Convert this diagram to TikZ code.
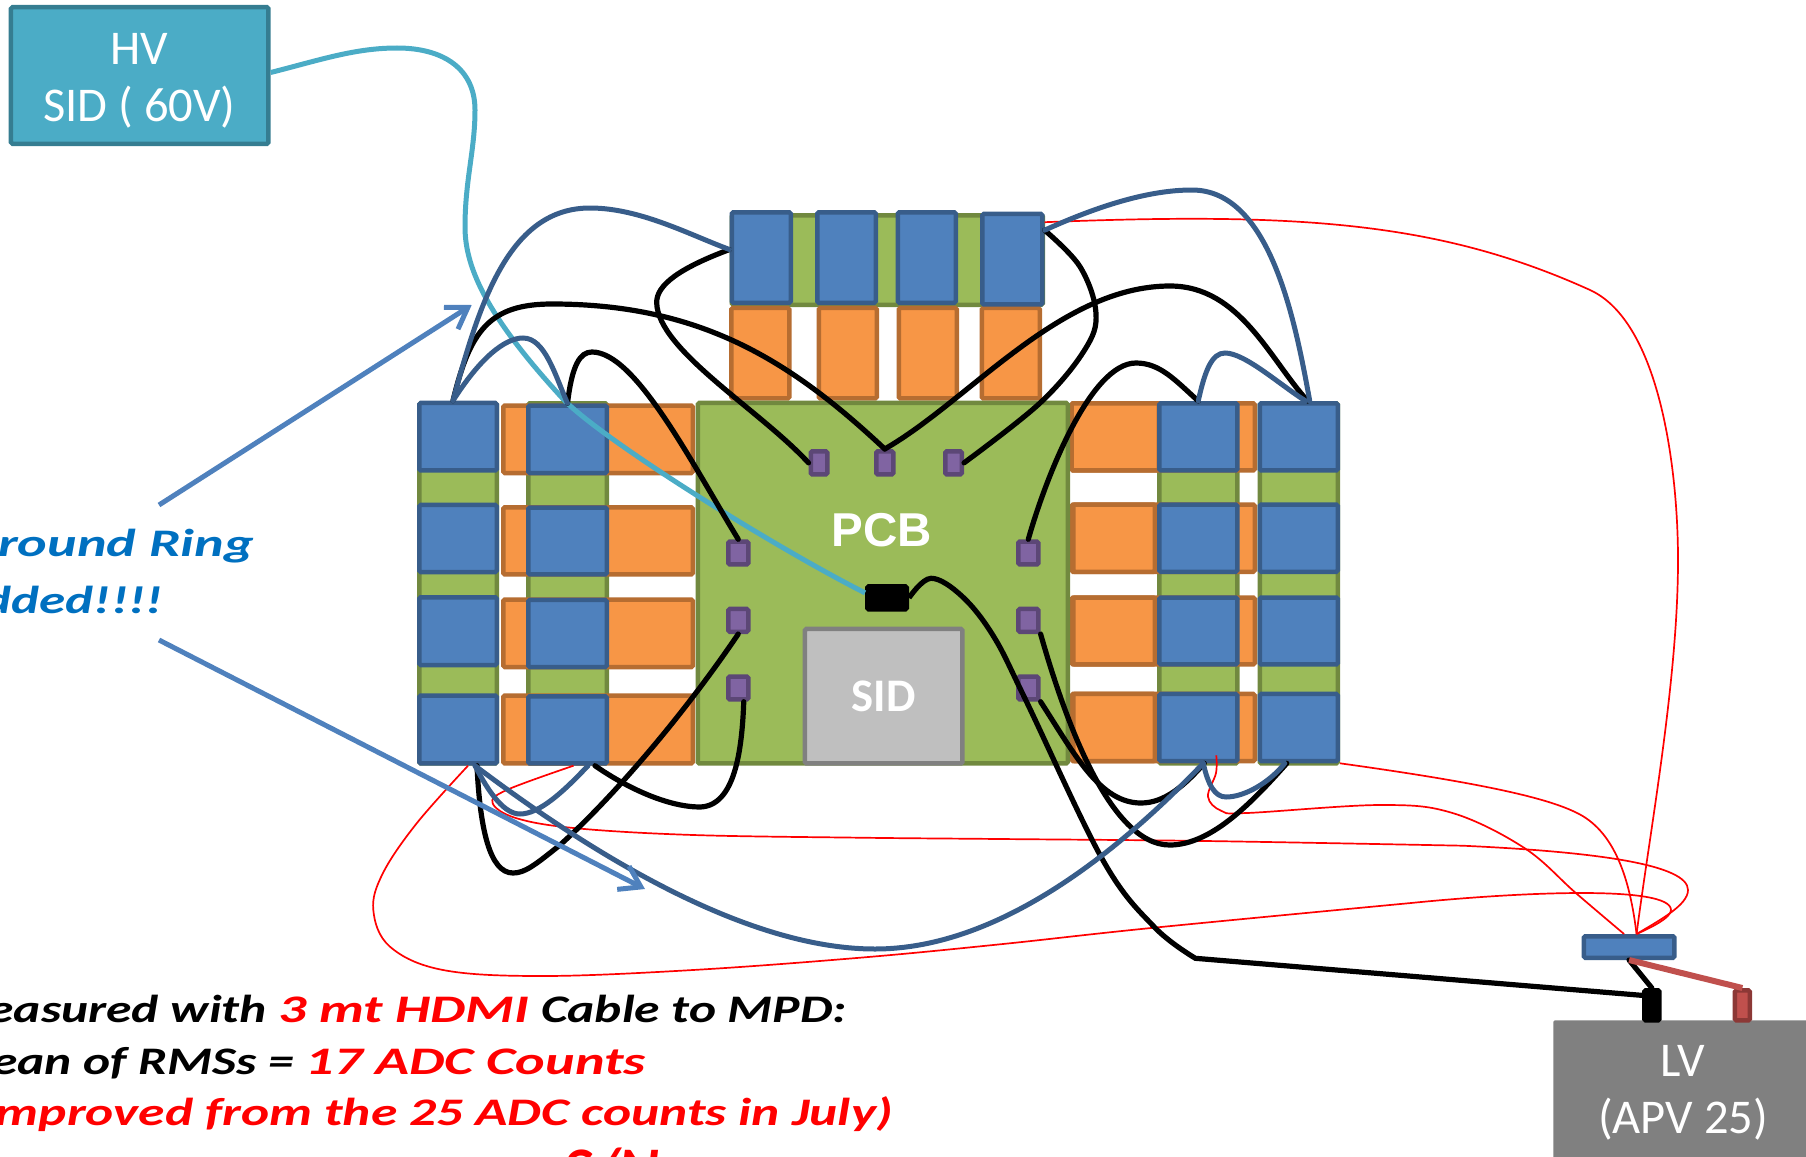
\documentclass[tikz,border=0pt]{standalone}
\usepackage{fontspec}
\usepackage{graphicx}
\setmainfont{Carlito}
\newfontfamily\pcbfont{Liberation Sans}
\usetikzlibrary{arrows.meta}
\definecolor{bfill}{HTML}{4F81BD}\definecolor{bline}{HTML}{385D8A}
\definecolor{gfill}{HTML}{9BBB59}\definecolor{gline}{HTML}{71893F}
\definecolor{ofill}{HTML}{F79646}\definecolor{oline}{HTML}{B66D31}
\definecolor{pfill}{HTML}{8064A2}\definecolor{pline}{HTML}{5C4776}
\definecolor{tfill}{HTML}{4BACC6}\definecolor{tline}{HTML}{357D91}
\definecolor{rfill}{HTML}{C0504D}\definecolor{rline}{HTML}{8C3836}
\definecolor{handblue}{HTML}{0070C0}
\newcommand{\bx}[6]{\node[#1,minimum width={(#4-#2-4.5)*1pt},minimum height={(#5-#3-4.5)*1pt}] (#6) at ({(#2+#4)/2},{(#3+#5)/2}) {};}
\newcommand{\bxt}[7]{\node[#1,minimum width={(#4-#2-4.5)*1pt},minimum height={(#5-#3-4.5)*1pt}] (#6) at ({(#2+#4)/2},{(#3+#5)/2}) {#7};}
\newcommand{\bigtxt}{\fontsize{48.5}{57.5}\selectfont}
\newcommand{\hw}[2]{\scalebox{#1}[1]{\fontsize{39}{39}\selectfont\bfseries\itshape #2}}
\tikzset{
 boxbase/.style={rectangle,inner sep=0pt,line width=4.5pt,rounded corners=1.5pt},
 blu/.style={boxbase,fill=bfill,draw=bline},
 grn/.style={boxbase,fill=gfill,draw=gline},
 org/.style={boxbase,fill=ofill,draw=oline},
 padbox/.style={boxbase,fill=pfill,draw=pline},
 sidbox/.style={boxbase,fill=black!25,draw=black!50,text=white,font=\fontsize{46.7}{57}\selectfont\bfseries},
 hvbox/.style={boxbase,fill=tfill,draw=tline},
 lvbox/.style={boxbase,fill=black!50,draw=none,text=white,font=\bigtxt,align=center},
 hvtext/.style={inner sep=0pt,text=white,font=\bigtxt,align=center},
 blk/.style={boxbase,fill=black,draw=black},
 redc/.style={boxbase,fill=rfill,draw=rline},
 wk/.style={draw=black,line width=5.2pt,line cap=round},
 wb/.style={draw=bline,line width=5pt,line cap=round},
 wr/.style={draw=red,line width=1.7pt},
 wt/.style={draw=tfill,line width=5pt},
 ptr/.style={draw=bfill,line width=5pt,-{Straight Barb[length=20pt,width=26pt,line width=5pt]}},
 hwt/.style={inner sep=0pt,anchor=base east},
 sm/.style={smooth,tension=0.6}
}
\begin{document}
\begin{tikzpicture}[x=1pt,y=-1pt]
\useasboundingbox (0,0) rectangle (1806,1156);
\clip (0,0) rectangle (1806,1156);
% green carriers
\bx{grn}{417}{401}{499}{765.7}{gLa}
\bx{grn}{526}{401}{609}{765.7}{gLb}
\bx{grn}{1157}{401}{1239.5}{765.7}{gRa}
\bx{grn}{1257.5}{401}{1340}{765.7}{gRb}
\bx{grn}{729.5}{213}{1045}{307}{gT}
% orange strips
\bx{org}{501}{403.3}{695}{475.3}{oL1}
\bx{org}{501}{505}{695}{576.7}{oL2}
\bx{org}{501}{597.3}{695}{669.3}{oL3}
\bx{org}{501}{693.3}{695}{765.7}{oL4}
\bx{org}{1069.3}{401}{1257}{472.7}{oR1}
\bx{org}{1069.3}{502.3}{1257}{574}{oR2}
\bx{org}{1069.3}{595.3}{1257}{666.7}{oR3}
\bx{org}{1069.3}{691.7}{1257}{763.3}{oR4}
\bx{org}{1069.3}{401}{1161}{472.7}{oS1}
\bx{org}{1071}{502.3}{1157}{574}{oS2}
\bx{org}{1071}{595.3}{1157}{666.7}{oS3}
\bx{org}{1071}{691.7}{1157}{763.3}{oS4}
\bx{org}{729}{305.7}{791.5}{400.7}{oT1}
\bx{org}{816.5}{305.7}{879}{400.7}{oT2}
\bx{org}{896.5}{305.7}{959}{400.7}{oT3}
\bx{org}{979.5}{305.7}{1042}{400.7}{oT4}
% blue pieces
\bx{blu}{417}{400.7}{499}{472.7}{La1}
\bx{blu}{417}{502.7}{499}{574.3}{La2}
\bx{blu}{417}{595}{499}{667.3}{La3}
\bx{blu}{417}{693.3}{499}{765.7}{La4}
\bx{blu}{526}{403.3}{609}{475.3}{Lb1}
\bx{blu}{526}{505.3}{609}{576.7}{Lb2}
\bx{blu}{526}{597.7}{609}{669.3}{Lb3}
\bx{blu}{526}{694}{609}{765.7}{Lb4}
\bx{blu}{1157}{401}{1239.5}{472.7}{Ra1}
\bx{blu}{1157}{502.3}{1239.5}{574}{Ra2}
\bx{blu}{1157}{595.3}{1239.5}{666.7}{Ra3}
\bx{blu}{1157}{691.7}{1239.5}{763.3}{Ra4}
\bx{blu}{1257.5}{401}{1340}{472.7}{Rb1}
\bx{blu}{1257.5}{502.3}{1340}{574}{Rb2}
\bx{blu}{1257.5}{595.3}{1340}{666.7}{Rb3}
\bx{blu}{1257.5}{691.7}{1340}{763.3}{Rb4}
\bx{blu}{729.5}{210}{793}{305}{T1}
\bx{blu}{815}{210}{878}{305}{T2}
\bx{blu}{895.5}{210}{958}{305}{T3}
\bx{blu}{980}{211.7}{1044.6}{306.7}{T4}
% PCB
\bx{grn}{695.5}{400.7}{1070}{765.7}{pcb}
\node[inner sep=0pt,text=white,font=\pcbfont\fontsize{47.5}{47.5}\selectfont\bfseries] (pcblabel) at (882,530) {PCB};
\bxt{sidbox}{802.7}{626.7}{964.7}{765.7}{sid}{SID}
\bx{padbox}{808.5}{449}{829.5}{476.7}{pt1}
\bx{padbox}{874}{449}{895.5}{476.7}{pt2}
\bx{padbox}{943}{449}{964}{476.7}{pt3}
\bx{padbox}{726}{539.3}{750.5}{566.7}{pl1}
\bx{padbox}{726}{606.7}{750.5}{634}{pl2}
\bx{padbox}{726}{674.3}{750.5}{701.7}{pl3}
\bx{padbox}{1016}{539.3}{1040.6}{566.7}{pr1}
\bx{padbox}{1016}{606.7}{1040.6}{634}{pr2}
\bx{padbox}{1016}{674.3}{1040.6}{701.7}{pr3}
\bx{blk}{865}{584}{909}{611.7}{bb}
% HV, LV
\bx{hvbox}{8.7}{5}{270.7}{146}{hv}
\node[hvtext] (hvlabel) at (139.5,81) {HV\\SID ( 60V)};
\bxt{lvbox}{1551}{1018}{1815}{1168}{lv}{LV\\(APV 25)}
\bx{blu}{1581.5}{934}{1676.6}{960}{sb}
\bx{blk}{1642}{988}{1661.7}{1022.7}{cb}
\bx{redc}{1732.7}{988}{1752}{1022.7}{cr}
% red thin wires
\draw[wr] ([yshift=37pt]T4.east) .. controls (1300,212) and (1440,222) .. (1590,290) .. controls (1660,322) and (1678,470) .. (1678,560) .. controls (1678,680) and (1650,830) .. ([xshift=7.5pt]sb.north);
\draw[wr] (Rb4.south east) .. controls (1460,780) and (1540,795) .. (1575,812) .. controls (1615,830) and (1630,880) .. ([xshift=7.5pt]sb.north);
\draw[wr] plot[sm] coordinates {([xshift=18pt,yshift=8pt]Ra4.south) (1216,773) (1208,796.7) (1221,810.7) (1246.8,813) (1380.5,805) (1452.5,813) (1524.4,848) (1575.8,893) ([xshift=-5pt]sb.north)};
\draw[wr] plot[sm] coordinates {([xshift=6pt]Lb4.south) (506.7,790) (492.7,803.3) (516.7,818.3) (576.7,828.3) (693.3,835) (860,837.7) (1000,839) (1205.7,841) (1462.7,845.7)} .. controls (1600,852) and (1688,865) .. (1688,890) .. controls (1688,905) and (1660,920) .. ([xshift=7.5pt]sb.north);
\draw[wr] plot[sm] coordinates {([xshift=10pt]La4.south) (416.7,823.3) (383,873) (373.3,910) (390,946.7) (443,970) (543,976) (693,970) (860,957.7) (1000,944.3) (1154,927.7) (1411,903)} .. controls (1520,892) and (1671,885) .. (1671,910) .. controls (1671,918) and (1650,928) .. ([xshift=7.5pt]sb.north);
% HV wire
\draw[wt] ([yshift=3pt]hv.east) .. controls (320,60) and (355,48) .. (397,48) .. controls (445,48) and (475,70) .. (475,110) .. controls (475,150) and (465,180) .. (465,227) .. controls (465,270) and (490,320) .. (565,401) .. controls (610,445) and (780,550) .. ([yshift=5pt]bb.west);
% black wires
\draw[wk] ([yshift=8pt]T1.west) .. controls (680,268) and (656,285) .. (656.7,303) .. controls (658,350) and (760,410) .. (pt1.west);
\draw[wk] ([xshift=-5pt]La1.north) .. controls (470,330) and (490,304) .. (552,304) .. controls (700,304) and (790,360) .. (pt2.north);
\draw[wk] (pt2.north) .. controls (970,400) and (1060,286) .. (1170,286) .. controls (1240,286) and (1270,360) .. ([xshift=9pt]Rb1.north);
\draw[wk] plot[sm] coordinates {([yshift=29pt]T4.east) (1080,266.7) (1096,313.3) (1084.6,350) (1040,403) (pt3.east)};
\draw[wk] (Lb1.north) .. controls (572,365) and (580,352) .. (592,352) .. controls (635,352) and (690,460) .. (pl1.north);
\draw[wk] (pr1.north) .. controls (1045,480) and (1090,363) .. (1136,363) .. controls (1160,363) and (1175,380) .. (Ra1.north);
\draw[wk] (pl2.south) .. controls (680,720) and (610,800) .. (560,845) .. controls (535,865) and (525,873) .. (513,873) .. controls (490,873) and (480,830) .. ([xshift=19pt]La4.south);
\draw[wk] ([xshift=5.5pt]pl3.south) .. controls (742,750) and (735,806) .. (700,807) .. controls (670,807) and (630,790) .. ([xshift=27.5pt]Lb4.south);
\draw[wk] (pr3.south east) .. controls (1075,755) and (1100,803) .. (1141,803) .. controls (1165,803) and (1185,785) .. ([xshift=6pt]Ra4.south);
\draw[wk] (pr2.south east) .. controls (1065,720) and (1110,845) .. (1169.7,845) .. controls (1210,845) and (1250,805) .. ([xshift=-12pt]Rb4.south);
\draw[wk,line cap=butt] plot[sm] coordinates {(bb.east) (931,578.3) (962.5,596.7) (993.8,636.7) (1025.7,700) (1102.8,860) (1154,926.7) (1195.4,958.3)} -- ([yshift=10pt]cb.west);
\draw[wk] (sb.south) -- (cb.north);
\draw[draw=rfill,line width=6pt] (sb.south) -- (cr.north);
% steel blue wires
\draw[wb] ([xshift=-5pt]La1.north) .. controls (480,300) and (510,208) .. (590,208) .. controls (640,208) and (690,235) .. ([yshift=8pt]T1.west);
\draw[wb] ([xshift=-5pt]La1.north) .. controls (480,358) and (505,338) .. (523,338) .. controls (545,338) and (555,375) .. (Lb1.north);
\draw[wb] (Ra1.north) .. controls (1205,370) and (1212,353) .. (1225,353) .. controls (1245,353) and (1280,385) .. ([xshift=7pt]Rb1.north);
\draw[wb] ([yshift=29pt]T4.east) .. controls (1100,205) and (1150,190) .. (1192,190) .. controls (1270,190) and (1295,320) .. ([xshift=11pt]Rb1.north);
\draw[wb] ([xshift=17pt]La4.south) .. controls (490,795) and (505,814) .. (520,814) .. controls (540,814) and (565,790) .. ([xshift=20.5pt]Lb4.south);
\draw[wb] ([xshift=17pt]La4.south) .. controls (600,860) and (750,949) .. (875,949) .. controls (1000,949) and (1120,850) .. ([xshift=5pt]Ra4.south);
\draw[wb] ([xshift=5pt]Ra4.south) .. controls (1208,785) and (1215,797) .. (1226,797) .. controls (1245,797) and (1270,782) .. ([xshift=-14pt]Rb4.south);
% pointer arrows
\coordinate (gru) at (159,505);
\coordinate (gruend) at (471.7,305);
\coordinate (grd) at (159,640);
\coordinate (grdend) at (645,889);
\draw[ptr] (gru) -- (gruend);
\draw[ptr] (grd) -- (grdend);
% hand-written notes
\node[hwt,text=handblue] (ring1) at (254,556.7) {\hw{1.44}{Ground Ring}};
\node[hwt,text=handblue] (ring2) at (163,613) {\hw{1.36}{Added!!!!}};
\node[hwt] (note1) at (847,1022.7) {\hw{1.32}{Measured with }\textcolor{red}{\hw{1.43}{3 mt HDMI}}\hw{1.32}{ Cable to MPD:}};
\node[hwt] (note2) at (646,1074) {\hw{1.32}{Mean of RMSs = }\textcolor{red}{\hw{1.44}{17 ADC Counts}}};
\node[hwt,text=red] (note3) at (893,1125) {\hw{1.37}{(Improved from the 25 ADC counts in July)}};
\node[inner sep=0pt,anchor=base west,text=red,font=\fontsize{62}{62}\selectfont\bfseries\itshape] (note4) at (563,1190) {S/N};
\end{tikzpicture}
\end{document}
